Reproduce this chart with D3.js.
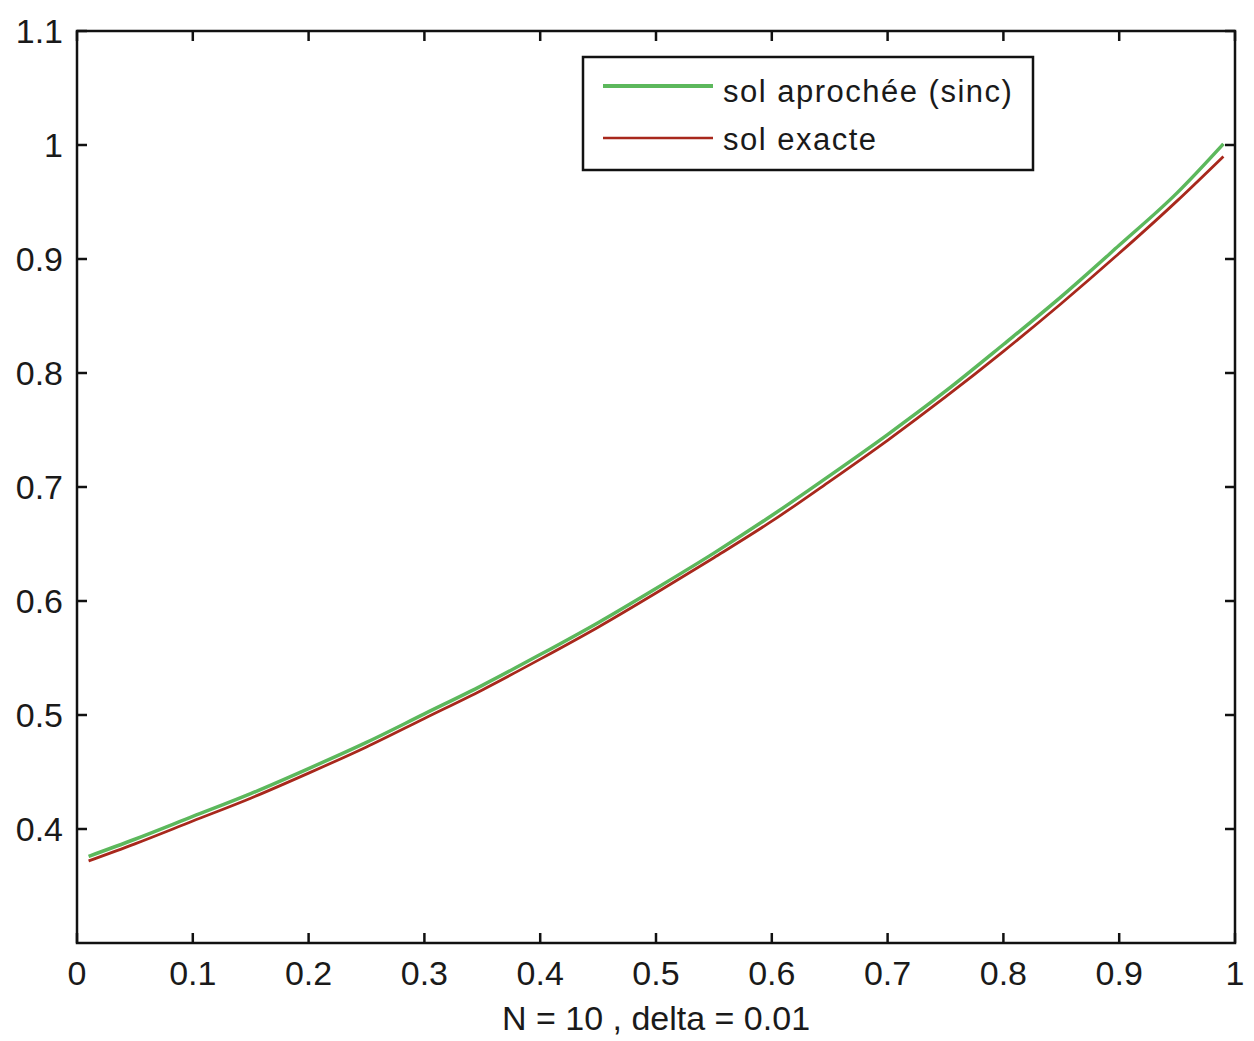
<!DOCTYPE html>
<html><head><meta charset="utf-8">
<script src="https://cdn.jsdelivr.net/npm/d3@7"></script>
<style>body{margin:0;background:#fff;} text{font-family:"Liberation Sans",Arial,sans-serif;fill:#1a1a1a;}</style>
</head><body>
<svg id="c" width="1254" height="1041"></svg>
<script>
const xs = [0.01,0.05,0.10,0.15,0.20,0.25,0.30,0.35,0.40,0.45,0.50,0.55,0.60,0.65,0.70,0.75,0.80,0.85,0.90,0.95,0.99];
const approx = [0.376,0.391,0.411,0.431,0.453,0.476,0.501,0.526,0.553,0.581,0.611,0.642,0.675,0.710,0.746,0.784,0.825,0.867,0.912,0.958,1.001];
const exact  = [0.372,0.387,0.407,0.427,0.449,0.472,0.497,0.522,0.549,0.577,0.607,0.638,0.670,0.705,0.741,0.779,0.819,0.861,0.905,0.951,0.990];
const xTicks = [0,0.1,0.2,0.3,0.4,0.5,0.6,0.7,0.8,0.9,1];
const yTicks = [0.4,0.5,0.6,0.7,0.8,0.9,1,1.1];
const labels = ["sol aprochée (sinc)","sol exacte"];
const colors = ["#5cb85c","#a8281c"];
const xTitle = "N = 10 , delta = 0.01";

const svg = d3.select("#c");
const L=77,R=1235,T=31,B=943;
const x = d3.scaleLinear().domain([0,1]).range([L,R]);
const y = d3.scaleLinear().domain([0.3,1.1]).range([B,T]);

const line = d3.line().x(d=>x(d[0])).y(d=>y(d[1])).curve(d3.curveMonotoneX);
svg.append("path").datum(xs.map((v,i)=>[v,approx[i]])).attr("d",line)
  .attr("fill","none").attr("stroke",colors[0]).attr("stroke-width",3.5);
svg.append("path").datum(xs.map((v,i)=>[v,exact[i]])).attr("d",line)
  .attr("fill","none").attr("stroke",colors[1]).attr("stroke-width",2.8);

// box
svg.append("rect").attr("x",L).attr("y",T).attr("width",R-L).attr("height",B-T)
  .attr("fill","none").attr("stroke","#111").attr("stroke-width",2.5);

// ticks (inward, all sides)
const tl=10;
const g=svg.append("g").attr("stroke","#111").attr("stroke-width",2.5);
xTicks.forEach(t=>{
  g.append("line").attr("x1",x(t)).attr("x2",x(t)).attr("y1",B).attr("y2",B-tl);
  g.append("line").attr("x1",x(t)).attr("x2",x(t)).attr("y1",T).attr("y2",T+tl);
});
yTicks.forEach(t=>{
  g.append("line").attr("x1",L).attr("x2",L+tl).attr("y1",y(t)).attr("y2",y(t));
  g.append("line").attr("x1",R).attr("x2",R-tl).attr("y1",y(t)).attr("y2",y(t));
});
xTicks.forEach(t=>{
  svg.append("text").attr("x",x(t)).attr("y",985).attr("text-anchor","middle")
    .attr("font-size",34).text(d3.format("")(t));
});
yTicks.forEach(t=>{
  svg.append("text").attr("x",63).attr("y",y(t)+12).attr("text-anchor","end")
    .attr("font-size",34).text(d3.format("")(t));
});
svg.append("text").attr("x",(L+R)/2).attr("y",1030).attr("text-anchor","middle")
  .attr("font-size",34).text(xTitle);

// legend
svg.append("rect").attr("x",583).attr("y",57).attr("width",450).attr("height",113)
  .attr("fill","#fff").attr("stroke","#111").attr("stroke-width",2.5);
const ly=[86,138], tb=[102,150];
labels.forEach((lab,i)=>{
  svg.append("line").attr("x1",603).attr("x2",713).attr("y1",ly[i]).attr("y2",ly[i])
    .attr("stroke",colors[i]).attr("stroke-width",i===0?4:2.5);
  svg.append("text").attr("x",723).attr("y",tb[i]).attr("font-size",31)
    .attr("letter-spacing","1.5px").text(lab);
});
</script>
</body></html>
